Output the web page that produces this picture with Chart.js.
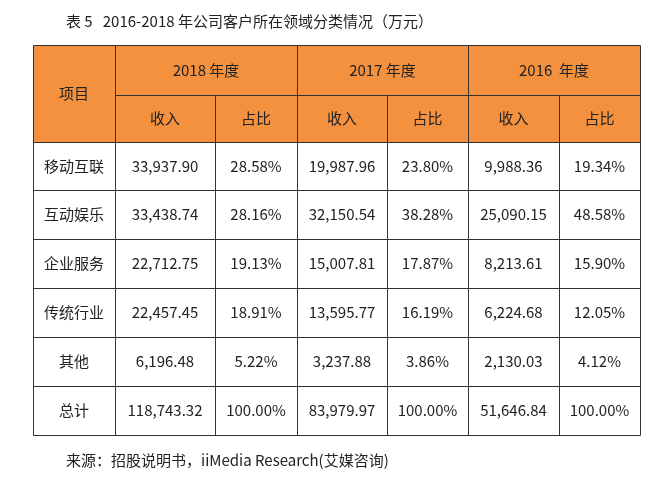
<!DOCTYPE html>
<html><head><meta charset="utf-8">
<script src="https://cdn.jsdelivr.net/npm/chart.js@4"></script>
<style>html,body{margin:0;background:#fff}#wrap{width:666px;height:495px}</style>
</head><body><div id="wrap"><canvas id="c"></canvas></div>
<script>
// 表格数据
const title = "表 5   2016-2018 年公司客户所在领域分类情况（万元）";
const source = "来源：招股说明书，iiMedia Research(艾媒咨询)";
const years = ["2018 年度", "2017 年度", "2016  年度"];
const subHeads = ["收入", "占比"];
const categories = ["移动互联", "互动娱乐", "企业服务", "传统行业", "其他", "总计"];
const income2018 = ["33,937.90", "33,438.74", "22,712.75", "22,457.45", "6,196.48", "118,743.32"];
const share2018  = ["28.58%", "28.16%", "19.13%", "18.91%", "5.22%", "100.00%"];
const income2017 = ["19,987.96", "32,150.54", "15,007.81", "13,595.77", "3,237.88", "83,979.97"];
const share2017  = ["23.80%", "38.28%", "17.87%", "16.19%", "3.86%", "100.00%"];
const income2016 = ["9,988.36", "25,090.15", "8,213.61", "6,224.68", "2,130.03", "51,646.84"];
const share2016  = ["19.34%", "48.58%", "15.90%", "12.05%", "4.12%", "100.00%"];

const colEdges = [33, 115, 215, 297, 387, 468, 559, 640];
const rowEdges = [45, 95, 142, 190, 239, 288, 337, 386, 435];
const ORANGE = "#f4913f";
const FONT = '"Noto Sans CJK SC", "Noto Sans", sans-serif';

const tablePlugin = {
  id: "table",
  afterDraw(chart) {
    const ctx = chart.ctx;
    const cols = [income2018, share2018, income2017, share2017, income2016, share2016];
    ctx.save();
    // 标题
    ctx.fillStyle = "#222";
    ctx.font = "15px " + FONT;
    ctx.textBaseline = "middle";
    ctx.textAlign = "left";
    ctx.fillText(title, 66, 21);
    // 表头背景
    ctx.fillStyle = ORANGE;
    ctx.fillRect(colEdges[0], rowEdges[0], colEdges[7] - colEdges[0], rowEdges[2] - rowEdges[0]);
    ctx.strokeStyle = "#333";
    ctx.lineWidth = 1;
    const line = (x1, y1, x2, y2) => { ctx.beginPath(); ctx.moveTo(x1 + .5, y1 + .5); ctx.lineTo(x2 + .5, y2 + .5); ctx.stroke(); };
    // 横线
    rowEdges.forEach((y, i) => {
      if (i === 1) line(colEdges[1], y, colEdges[7], y);
      else line(colEdges[0], y, colEdges[7], y);
    });
    // 竖线
    colEdges.forEach((x, i) => {
      if (i === 2 || i === 4 || i === 6) line(x, rowEdges[1], x, rowEdges[8]);
      else line(x, rowEdges[0], x, rowEdges[8]);
    });
    ctx.fillStyle = "#222";
    ctx.textAlign = "center";
    ctx.font = "15px " + FONT;
    ctx.fillText("项目", (colEdges[0] + colEdges[1]) / 2, (rowEdges[0] + rowEdges[2]) / 2);
    years.forEach((y, i) => {
      ctx.fillText(y, (colEdges[1 + 2 * i] + colEdges[3 + 2 * i]) / 2, (rowEdges[0] + rowEdges[1]) / 2);
    });
    for (let c = 0; c < 6; c++) {
      ctx.fillText(subHeads[c % 2], (colEdges[c + 1] + colEdges[c + 2]) / 2, (rowEdges[1] + rowEdges[2]) / 2);
    }
    categories.forEach((cat, r) => {
      const cy = (rowEdges[r + 2] + rowEdges[r + 3]) / 2;
      ctx.fillText(cat, (colEdges[0] + colEdges[1]) / 2, cy);
      cols.forEach((arr, c) => {
        ctx.fillText(arr[r], (colEdges[c + 1] + colEdges[c + 2]) / 2, cy);
      });
    });
    ctx.textAlign = "left";
    ctx.fillText(source, 66, 460);
    ctx.restore();
  }
};

new Chart(document.getElementById("c"), {
  type: "bar",
  data: { labels: categories, datasets: [{ data: [], label: "" }] },
  plugins: [tablePlugin],
  options: {
    responsive: true, maintainAspectRatio: false, animation: false,
    scales: { x: { display: false }, y: { display: false } },
    plugins: { legend: { display: false }, tooltip: { enabled: false } }
  }
});
</script></body></html>
